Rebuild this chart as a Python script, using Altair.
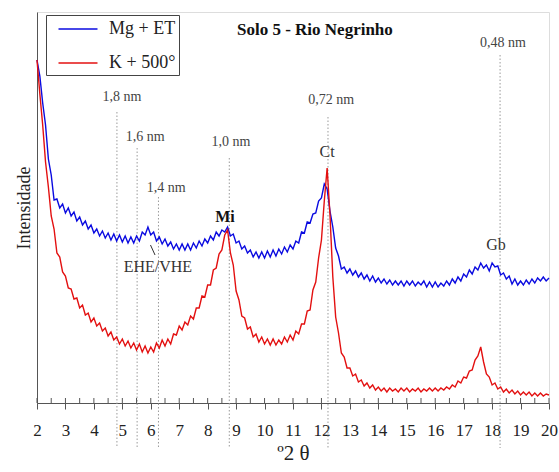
import altair as alt
import pandas as pd
import numpy as np

# ---------------- data ----------------
two_theta = [round(2.0 + 0.1 * i, 1) for i in range(181)]

mg_et = [
    343, 327, 300, 278, 244, 228, 203, 204, 195, 199,
    190, 195, 187, 191, 182, 186, 178, 182, 174, 178,
    170, 174, 167, 172, 165, 170, 163, 169, 162, 168,
    161, 167, 160, 166, 160, 167, 162, 171, 168, 176,
    168, 171, 162, 166, 159, 164, 157, 161, 154, 159,
    153, 159, 153, 159, 153, 160, 155, 162, 157, 164,
    160, 167, 163, 171, 167, 173, 171, 176, 167, 169,
    160, 162, 154, 157, 150, 153, 146, 151, 145, 151,
    145, 152, 146, 153, 147, 154, 149, 156, 151, 158,
    154, 162, 160, 171, 170, 181, 180, 189, 190, 202,
    205, 219, 214, 192, 176, 155, 147, 134, 136, 130,
    134, 128, 132, 126, 130, 124, 128, 122, 127, 121,
    125, 120, 124, 119, 123, 118, 122, 118, 122, 117,
    122, 118, 122, 117, 121, 118, 122, 116, 121, 116,
    121, 116, 120, 117, 122, 118, 124, 120, 126, 122,
    129, 126, 133, 129, 136, 133, 140, 135, 138, 132,
    140, 136, 137, 128, 130, 124, 127, 119, 124, 118,
    122, 118, 123, 119, 124, 120, 125, 122, 126, 122,
    125,
]

k_500 = [
    343, 309, 278, 241, 216, 187, 174, 150, 146, 131,
    127, 115, 114, 104, 105, 95, 98, 88, 90, 81,
    85, 77, 80, 72, 75, 67, 71, 63, 66, 59,
    64, 57, 62, 55, 60, 53, 59, 51, 57, 50,
    56, 51, 60, 55, 63, 57, 64, 59, 69, 68,
    77, 73, 81, 78, 87, 84, 95, 95, 107, 106,
    118, 118, 133, 135, 149, 153, 168, 173, 150, 138,
    112, 103, 87, 85, 74, 76, 66, 69, 61, 66,
    59, 64, 58, 64, 58, 63, 59, 66, 61, 68,
    63, 72, 69, 79, 79, 92, 93, 113, 121, 145,
    163, 202, 235, 188, 126, 86, 70, 50, 46, 35,
    35, 27, 29, 21, 23, 17, 20, 15, 18, 13,
    16, 12, 15, 11, 15, 12, 14, 11, 15, 12,
    15, 11, 14, 12, 15, 11, 14, 12, 15, 12,
    15, 12, 15, 13, 16, 14, 18, 16, 22, 20,
    26, 25, 32, 33, 43, 47, 56, 41, 29, 26,
    18, 20, 14, 16, 11, 14, 10, 13, 9, 12,
    8, 11, 8, 11, 7, 10, 7, 10, 7, 9,
    8,
]

series_names = ["Mg + ET", "K + 500°"]
series_colors = ["#0a0ae0", "#e31010"]

# reference lines (d-spacings)
ref_pos = [4.81, 5.52, 6.27, 8.76, 12.23, 18.28]
ref_top = [291, 255, 206, 245, 286, 348]

# annotation texts
nm_labels = ["1,8 nm", "1,6 nm", "1,4 nm", "1,0 nm", "0,72 nm", "0,48 nm"]
nm_x = [4.99, 5.80, 6.54, 8.82, 12.34, 18.38]
nm_y = [306, 266, 215, 261, 303, 360]

min_labels = ["Ct", "Gb", "EHE/VHE"]
min_x = [12.20, 18.14, 6.25]
min_y = [251, 158, 136]

mi_label = ["Mi"]
mi_x = [8.61]
mi_y = [186]

title_text = ["Solo 5 - Rio Negrinho"]
title_x = [11.77]
title_y = [373]

leader_x, leader_x2 = [5.99], [6.15]
leader_y, leader_y2 = [158], [148]

x_ticks = [2 + 0.5 * i for i in range(37)]
x_major = list(range(2, 21))

# ---------------- chart ----------------
W, H = 512, 391
FONT = "Liberation Serif"

df = pd.DataFrame({
    "x": two_theta * 2,
    "y": mg_et + k_500,
    "s": [series_names[0]] * len(two_theta) + [series_names[1]] * len(two_theta),
})

xscale = alt.Scale(domain=[2, 20], nice=False, zero=False)
yscale = alt.Scale(domain=[0, 391], nice=False, zero=False)
cscale = alt.Scale(domain=series_names, range=series_colors)

x_axis = alt.Axis(
    values=x_major, format="d", title="º2 θ", labelFontSize=17, labelFont=FONT,
    labelColor="#222", labelPadding=13, tickSize=6, tickColor="#555", domainColor="#555",
    titleFont=FONT, titleFontSize=21, titleFontWeight="normal", titleColor="#222",
    titleBaseline="alphabetic", titleY=56, grid=False, labelFlush=False, labelOverlap=False,
)
y_axis = alt.Axis(
    labels=False, ticks=False, grid=False, title="Intensidade", titleFont=FONT,
    titleFontSize=18, titleFontWeight="normal", titleColor="#222", titlePadding=4,
    domainColor="#555",
)

legend = alt.Legend(
    title=None, orient="none", legendX=9, legendY=3, symbolType="M-2,0H2",
    symbolSize=380, symbolStrokeWidth=1.6, labelFont=FONT, labelFontSize=18,
    labelColor="#222", padding=3, rowPadding=14, symbolOffset=18, labelOffset=20,
    strokeColor="#444", fillColor="white",
)

X = alt.X("x:Q", scale=xscale, axis=x_axis)
Y = alt.Y("y:Q", scale=yscale, axis=y_axis)

base = alt.Chart(df)
line_mg = base.transform_filter(alt.datum.s == series_names[0]).mark_line(strokeWidth=1.4).encode(
    x=X, y=Y,
    color=alt.Color("s:N", scale=cscale, legend=legend, sort=series_names),
)
line_k = base.transform_filter(alt.datum.s == series_names[1]).mark_line(strokeWidth=1.4).encode(
    x=X, y=Y,
    color=alt.Color("s:N", scale=cscale, legend=legend, sort=series_names),
)

refs = alt.Chart(pd.DataFrame({"x": ref_pos, "y": ref_top})).mark_rule(
    color="#9a9a9a", strokeDash=[1.5, 2], strokeWidth=1
).encode(x=X, y=Y, y2=alt.value(H + 45))

minor = alt.Chart(pd.DataFrame({"x": x_ticks})).mark_rule(color="#555", strokeWidth=1).encode(
    x=X, y=alt.value(H - 5), y2=alt.value(H)
)

nm_text = alt.Chart(pd.DataFrame({"x": nm_x, "y": nm_y, "t": nm_labels})).mark_text(
    font=FONT, fontSize=14, color="#444"
).encode(x=X, y=Y, text="t:N")

min_text = alt.Chart(pd.DataFrame({"x": min_x, "y": min_y, "t": min_labels})).mark_text(
    font=FONT, fontSize=16, color="#333"
).encode(x=X, y=Y, text="t:N")

mi_text = alt.Chart(pd.DataFrame({"x": mi_x, "y": mi_y, "t": mi_label})).mark_text(
    font=FONT, fontSize=16, fontWeight="bold", color="#111"
).encode(x=X, y=Y, text="t:N")

ttl = alt.Chart(pd.DataFrame({"x": title_x, "y": title_y, "t": title_text})).mark_text(
    font=FONT, fontSize=17, fontWeight="bold", color="#111"
).encode(x=X, y=Y, text="t:N")

leader = alt.Chart(pd.DataFrame({"x": leader_x, "x2": leader_x2, "y": leader_y, "y2": leader_y2})).mark_rule(
    color="#333", strokeWidth=1
).encode(x=X, x2="x2:Q", y=Y, y2="y2:Q")

chart = alt.layer(
    refs, minor, line_mg, line_k, nm_text, min_text, mi_text, ttl, leader
).properties(
    width=W, height=H,
    autosize=alt.AutoSizeParams(type="none"),
    padding={"left": 37, "top": 12, "right": 10, "bottom": 69},
).configure_view(stroke=None).configure(background="white", font=FONT).configure_axis(
    labelFont=FONT, titleFont=FONT
).configure_legend(labelFont=FONT)

chart.save("out.html", embed_options={"renderer": "svg", "actions": False})
